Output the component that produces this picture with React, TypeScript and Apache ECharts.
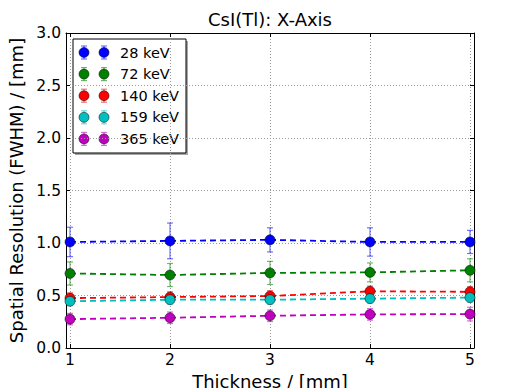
import React, { useEffect, useRef } from "react";
import * as echarts from "echarts";

const thickness = [1, 2, 3, 4, 5];
const seriesNames = ["28 keV", "72 keV", "140 keV", "159 keV", "365 keV"];
const seriesColors = ["#0000ff", "#008000", "#ff0000", "#00bfbf", "#bf00bf"];
const values28 = [1.01, 1.02, 1.03, 1.01, 1.01];
const values72 = [0.71, 0.695, 0.715, 0.72, 0.74];
const values140 = [0.475, 0.485, 0.495, 0.54, 0.535];
const values159 = [0.445, 0.46, 0.46, 0.47, 0.48];
const values365 = [0.275, 0.288, 0.307, 0.32, 0.323];
const errors28 = [0.14, 0.17, 0.115, 0.135, 0.11];
const errors72 = [0.11, 0.11, 0.11, 0.09, 0.11];
const errors140 = [0.05, 0.05, 0.05, 0.05, 0.05];
const errors159 = [0.04, 0.04, 0.04, 0.04, 0.04];
const errors365 = [0.055, 0.055, 0.055, 0.055, 0.065];
const xTicks = [1, 2, 3, 4, 5];
const titleText = "CsI(Tl): X-Axis";
const xName = "Thickness / [mm]";
const yName = "Spatial Resolution (FWHM) / [mm]";

const allValues = [values28, values72, values140, values159, values365];
const allErrors = [errors28, errors72, errors140, errors159, errors365];

const FONT = "DejaVu Sans";

function rgba(hex: string, a: number) {
  const n = parseInt(hex.slice(1), 16);
  return `rgba(${(n >> 16) & 255},${(n >> 8) & 255},${n & 255},${a})`;
}

export default function App() {
  const ref = useRef<HTMLDivElement>(null);
  useEffect(() => {
    if (!ref.current) return;
    const chart = echarts.init(ref.current, undefined, { renderer: "svg" });

    const lineSeries = seriesNames.map((name, i) => ({
      name,
      type: "line",
      data: thickness.map((x, j) => [x, allValues[i][j]]),
      symbol: "circle",
      symbolSize: 10,
      z: 3 + i,
      lineStyle: { color: seriesColors[i], width: 1.8, type: [6, 4] },
      itemStyle: { color: seriesColors[i], borderColor: "#000", borderWidth: 0.5 },
      emphasis: { disabled: true },
    }));

    const errSeries = seriesNames.map((name, i) => ({
      name: name + " err",
      type: "custom",
      z: 2 + i,
      data: thickness.map((x, j) => [x, allValues[i][j] - allErrors[i][j], allValues[i][j] + allErrors[i][j]]),
      renderItem: (params: any, api: any) => {
        const x = api.value(0);
        const p1 = api.coord([x, api.value(2)]);
        const p2 = api.coord([x, api.value(1)]);
        const st = { stroke: rgba(seriesColors[i], 0.55), lineWidth: 1.2 };
        return {
          type: "group",
          children: [
            { type: "line", shape: { x1: p1[0], y1: p1[1], x2: p2[0], y2: p2[1] }, style: st },
            { type: "line", shape: { x1: p1[0] - 3, y1: p1[1], x2: p1[0] + 3, y2: p1[1] }, style: st },
            { type: "line", shape: { x1: p2[0] - 3, y1: p2[1], x2: p2[0] + 3, y2: p2[1] }, style: st },
          ],
        };
      },
    }));

    const lx = 73, ly = 39, lw = 113, lh = 114;
    const legendChildren: any[] = [
      { type: "rect", shape: { x: lx + 2, y: ly + 2, width: lw, height: lh }, style: { fill: "rgba(0,0,0,0.35)" } },
      { type: "rect", shape: { x: lx, y: ly, width: lw, height: lh }, style: { fill: "#fff", stroke: "#000", lineWidth: 1 } },
    ];
    seriesNames.forEach((name, i) => {
      const cy = 52.5 + i * 21.6;
      [84, 104].forEach((cx) => {
        const st = { stroke: rgba(seriesColors[i], 0.55), lineWidth: 1.2 };
        legendChildren.push(
          { type: "line", shape: { x1: cx, y1: cy - 6.5, x2: cx, y2: cy + 6.5 }, style: st },
          { type: "line", shape: { x1: cx - 3, y1: cy - 6.5, x2: cx + 3, y2: cy - 6.5 }, style: st },
          { type: "line", shape: { x1: cx - 3, y1: cy + 6.5, x2: cx + 3, y2: cy + 6.5 }, style: st },
          { type: "circle", shape: { cx, cy, r: 5 }, style: { fill: seriesColors[i], stroke: "#000", lineWidth: 0.5 } }
        );
      });
      legendChildren.push({
        type: "text",
        x: 120,
        y: cy,
        style: { text: name, font: `14.5px '${FONT}'`, fill: "#000", verticalAlign: "middle", align: "left" },
      });
    });

    const gridLine = { show: true, lineStyle: { color: "#9a9a9a", width: 1, type: [1, 2] } };
    const tickStyle = { show: true, inside: true, length: 4, lineStyle: { color: "#000", width: 1 } };

    chart.setOption({
      animation: false,
      backgroundColor: "#fff",
      textStyle: { fontFamily: FONT },
      grid: { left: 66, right: 35, top: 33, bottom: 40, show: false, containLabel: false, outerBoundsMode: "none" },
      xAxis: [
        {
          type: "value",
          min: 0.96,
          max: 5.04,
          position: "bottom",
          name: xName,
          nameLocation: "middle",
          nameGap: 21,
          nameTextStyle: { fontSize: 18, color: "#000", fontFamily: FONT },
          axisLine: { show: true, onZero: false, lineStyle: { color: "#000", width: 1 } },
          axisTick: { ...tickStyle, customValues: xTicks },
          axisLabel: { show: true, customValues: xTicks, fontSize: 15.5, color: "#000", margin: 4, fontFamily: FONT },
          splitLine: { ...gridLine, customValues: xTicks },
        },
        {
          type: "value",
          min: 0.96,
          max: 5.04,
          position: "top",
          axisLine: { show: true, onZero: false, lineStyle: { color: "#000", width: 1 } },
          axisTick: { ...tickStyle, customValues: xTicks },
          axisLabel: { show: false },
          splitLine: { show: false },
        },
      ],
      yAxis: [
        {
          type: "value",
          min: 0,
          max: 3,
          interval: 0.5,
          position: "left",
          name: yName,
          nameLocation: "middle",
          nameGap: 35,
          nameTextStyle: { fontSize: 18, color: "#000", fontFamily: FONT },
          axisLine: { show: true, onZero: false, lineStyle: { color: "#000", width: 1 } },
          axisTick: tickStyle,
          axisLabel: { fontSize: 15.5, color: "#000", margin: 5, formatter: (v: number) => v.toFixed(1), fontFamily: FONT },
          splitLine: gridLine,
        },
        {
          type: "value",
          min: 0,
          max: 3,
          interval: 0.5,
          position: "right",
          axisLine: { show: true, onZero: false, lineStyle: { color: "#000", width: 1 } },
          axisTick: tickStyle,
          axisLabel: { show: false },
          splitLine: { show: false },
        },
      ],
      graphic: [
        {
          type: "text",
          x: 270,
          y: 10,
          style: { text: titleText, font: `18px '${FONT}'`, fill: "#000", align: "center", verticalAlign: "top" },
        },
        { type: "group", children: legendChildren, z: 100 },
      ],
      series: [...errSeries, ...lineSeries],
    });
    return () => chart.dispose();
  }, []);
  return <div ref={ref} style={{ position: "fixed", left: 0, top: 0, width: 509, height: 388 }} />;
}
